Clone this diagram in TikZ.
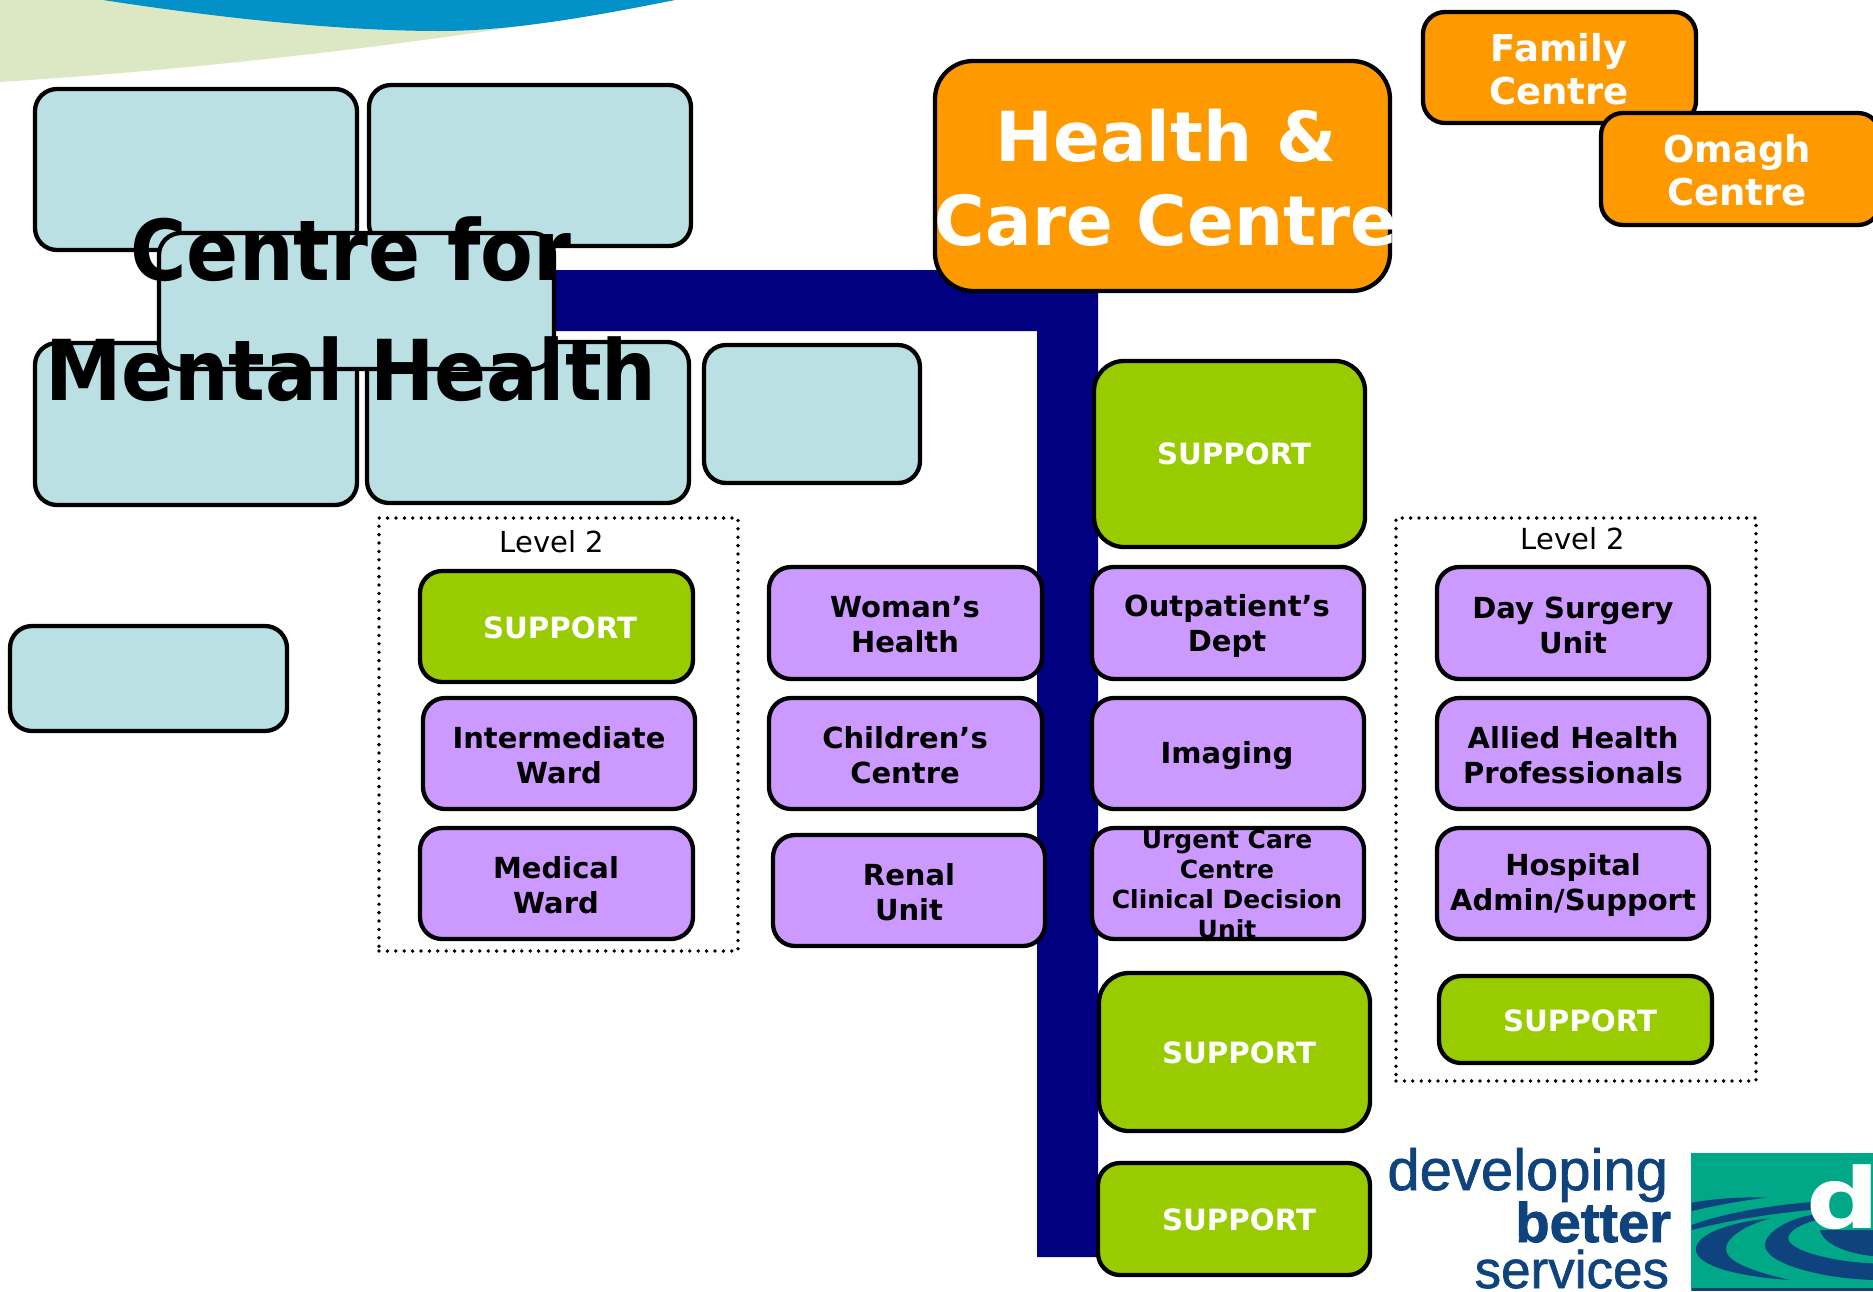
\documentclass[tikz,border=0pt]{standalone}
\usepackage{fontspec}
\setmainfont{DejaVu Sans}
\newfontfamily\logofont[FakeBold=1.2]{Liberation Sans}
\newfontfamily\logoboldfont[FakeBold=1.5]{Liberation Sans Bold}
\newfontfamily\narrowbold[FakeStretch=0.915]{DejaVu Sans Bold}
\newfontfamily\widebold[FakeStretch=1.22]{DejaVu Sans Bold}
\definecolor{lightb}{HTML}{BAE0E3}
\definecolor{orangeb}{HTML}{FF9900}
\definecolor{greenb}{HTML}{99CC00}
\definecolor{purpleb}{HTML}{CC99FF}
\definecolor{navybar}{HTML}{000080}
\definecolor{palegreen}{HTML}{DCE8C4}
\definecolor{topblue}{HTML}{0392C8}
\definecolor{logoblue}{HTML}{0F437D}
\definecolor{logoteal}{HTML}{00A887}
\tikzset{
  boxbase/.style={draw=black,line width=4.3pt,inner sep=0pt,outer sep=0pt,rectangle,rounded corners=22pt},
  cyanbox/.style={boxbase,fill=lightb},
  orangebox/.style={boxbase,fill=orangeb},
  greenbox/.style={boxbase,fill=greenb},
  purplebox/.style={boxbase,fill=purpleb},
  dotframe/.style={draw=black,line width=3.8pt,line cap=round,dash pattern=on 0pt off 8.4pt,inner sep=0pt,outer sep=0pt,rectangle},
  base/.style={align=center,inner sep=0pt,outer sep=0pt},
  purpletext/.style={base,font=\fontsize{29}{35}\bfseries\selectfont,text=black},
  supporttext/.style={base,font=\fontsize{29.3}{32}\bfseries\selectfont,text=white},
  orangetext/.style={base,font=\fontsize{37}{43}\bfseries\selectfont,text=white},
  bigorange/.style={base,font=\fontsize{69}{84}\bfseries\selectfont,text=white},
  bigblack/.style={base,font=\narrowbold\fontsize{84}{120}\selectfont,text=black},
  leveltext/.style={base,font=\fontsize{29}{32}\selectfont,text=black},
}
\newcommand{\bx}[6]{\node[#1,minimum width={#5-#3},minimum height={#6-#4}] (#2) at ({(#3+#5)/2},{(#4+#6)/2}) {};}
\begin{document}
\begin{tikzpicture}[x=1pt,y=-1pt]
\useasboundingbox (0,0) rectangle (1873,1291);
\clip (0,0) rectangle (1873,1291);
% top-left wave
\fill[palegreen] (0,0) -- (675,0) .. controls (520,29) and (280,64) .. (0,82) -- cycle;
\fill[topblue] (103,0) .. controls (220,18) and (340,31) .. (440,31) .. controls (510,31) and (590,17) .. (675,0) -- cycle;
% T bar
\fill[navybar] (554,270) -- (1098,270) -- (1098,1257) -- (1037,1257) -- (1037,331) -- (554,331) -- cycle;
% cyan
\bx{cyanbox}{a}{35}{89}{357}{250}
\bx{cyanbox}{b}{369}{85}{691}{246}
\bx{cyanbox}{d}{35}{343}{357}{505}
\bx{cyanbox}{e}{367}{342}{689}{503}
\bx{cyanbox}{f}{704}{345}{920}{483}
\bx{cyanbox}{g}{10}{626}{287}{731}
\bx{cyanbox}{c}{159}{233}{554}{369}
\node[bigblack] (ct) at (351,309) {Centre for\\Mental Health};
% orange
\bx{orangebox,rounded corners=38pt}{hc}{935}{61}{1390}{291}
\node[bigorange] (hct) at (1166,178) {Health \&\\Care Centre};
\bx{orangebox}{fam}{1423}{12}{1696}{123}
\node[orangetext] (famt) at (1559,69) {Family\\Centre};
\bx{orangebox}{om}{1601}{113}{1880}{225}
\node[orangetext] (omt) at (1737,170) {Omagh\\Centre};
% frames
\node[dotframe,minimum width=359,minimum height=433] (fr1) at (558.5,734.5) {};
\node[dotframe,minimum width=360,minimum height=563] (fr2) at (1576,799.5) {};
\node[leveltext] (l1) at (552,542) {Level 2};
\node[leveltext] (l2) at (1573,539) {Level 2};
% green
\bx{greenbox,rounded corners=30pt}{s1}{1094}{361}{1365}{547}
\node[supporttext] (s1t) at (1234,454) {SUPPORT};
\bx{greenbox}{s2}{420}{571}{693}{682}
\node[supporttext] (s2t) at (560,628) {SUPPORT};
\bx{greenbox,rounded corners=30pt}{s3}{1099}{973}{1370}{1131}
\node[supporttext] (s3t) at (1239,1053) {SUPPORT};
\bx{greenbox}{s4}{1098}{1163}{1370}{1275}
\node[supporttext] (s4t) at (1239,1220) {SUPPORT};
\bx{greenbox}{s5}{1439}{976}{1712}{1063}
\node[supporttext] (s5t) at (1580,1021) {SUPPORT};
% purple
\bx{purplebox}{p1}{423}{698}{695}{809}
\node[purpletext] (p1t) at (559,755) {Intermediate\\Ward};
\bx{purplebox}{p2}{420}{828}{693}{939}
\node[purpletext] (p2t) at (556,885) {Medical\\Ward};
\bx{purplebox}{p3}{769}{567}{1042}{679}
\node[purpletext] (p3t) at (905,625) {Woman's\\Health};
\bx{purplebox}{p4}{769}{698}{1042}{809}
\node[purpletext] (p4t) at (905,755) {Children's\\Centre};
\bx{purplebox}{p5}{773}{835}{1045}{946}
\node[purpletext] (p5t) at (909,892) {Renal\\Unit};
\bx{purplebox}{p6}{1092}{567}{1364}{679}
\node[purpletext] (p6t) at (1227,626) {Outpatient's\\Dept};
\bx{purplebox}{p7}{1092}{698}{1364}{809}
\node[purpletext] (p7t) at (1227,756) {Imaging};
\bx{purplebox}{p8}{1092}{828}{1364}{939}
\node[base,font=\fontsize{25}{30}\bfseries\selectfont] (p8t) at (1227,884) {Urgent Care\hspace{9pt}\\Centre\\Clinical Decision\\Unit};
\bx{purplebox}{p9}{1437}{567}{1709}{679}
\node[purpletext] (p9t) at (1573,625) {Day Surgery\\Unit};
\bx{purplebox}{p10}{1437}{698}{1709}{809}
\node[purpletext] (p10t) at (1573,755) {Allied Health\\Professionals};
\bx{purplebox}{p11}{1437}{828}{1709}{939}
\node[purpletext] (p11t) at (1573,885) {Hospital\\Admin/Support};
% logo
\node[base,anchor=base east,text=logoblue,font=\logofont\fontsize{58}{58}\selectfont] (ld) at (1668,1190) {developing};
\node[base,anchor=base east,text=logoblue,font=\logoboldfont\fontsize{56}{56}\selectfont] (lb) at (1671,1242) {better};
\node[base,anchor=base east,text=logoblue,font=\logofont\fontsize{53}{53}\selectfont] (ls) at (1669,1288) {services};
\fill[logoteal] (1691,1153) rectangle (1873,1291);
\begin{scope}[shift={(1370,1130)},x=0.3333pt,y=-0.3333pt,logoblue]
\fill (965,218) .. controls (1040,205) and (1120,200) .. (1190,203) .. controls (1110,212) and (1030,228) .. (965,243) -- cycle;
\fill (965,285) .. controls (1060,250) and (1200,225) .. (1340,215) -- (1340,238) .. controls (1200,250) and (1060,275) .. (965,300) -- cycle;
\fill (1200,265) .. controls (1090,275) and (975,310) .. (978,360) .. controls (982,410) and (1110,440) .. (1260,450) .. controls (1150,425) and (1065,395) .. (1068,355) .. controls (1070,320) and (1130,285) .. (1200,265) -- cycle;
\fill (1340,252) .. controls (1250,265) and (1185,310) .. (1185,345) .. controls (1185,400) and (1350,445) .. (1509,450) -- (1509,400) .. controls (1380,395) and (1255,360) .. (1255,325) .. controls (1255,300) and (1300,280) .. (1340,270) -- cycle;
\fill (1350,300) .. controls (1360,345) and (1440,372) .. (1509,378) -- (1509,300) -- cycle;
\fill (965,475) rectangle (1509,483);
\end{scope}
\node[base,anchor=base west,text=white,font=\widebold\fontsize{84}{84}\selectfont] (ldd) at (1806,1228) {d};
\end{tikzpicture}
\end{document}
